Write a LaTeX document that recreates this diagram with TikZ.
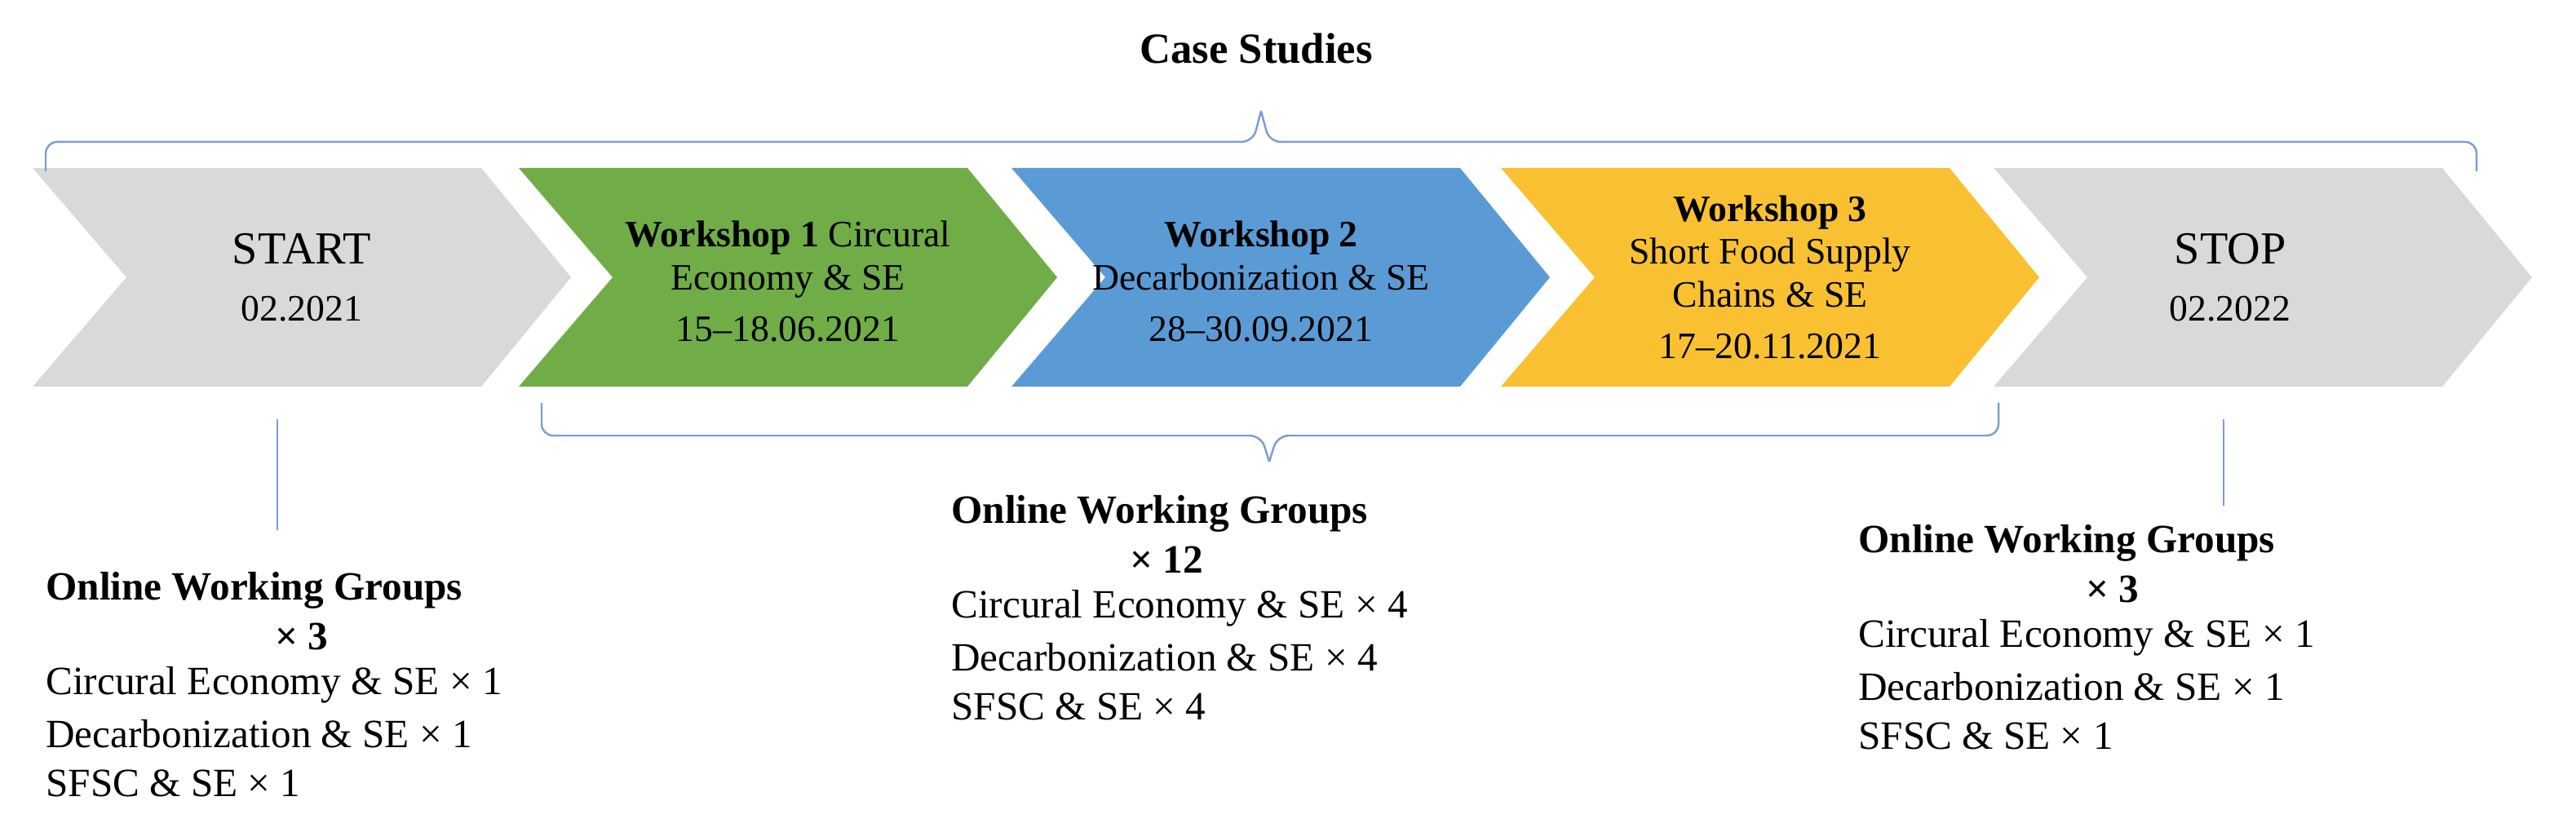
\documentclass[tikz,border=0pt]{standalone}
\usepackage{fontspec}
\setmainfont{Liberation Serif}
\usetikzlibrary{positioning}
\definecolor{chgray}{HTML}{D9D9D9}
\definecolor{chgreen}{HTML}{70AD47}
\definecolor{chblue}{HTML}{5B9BD5}
\definecolor{chyellow}{HTML}{F9C131}
\definecolor{brace}{HTML}{4472C4}
\newcommand{\chev}[2]{\fill[#2] (#1,8.14) -- ++(5.5,0) -- ++(1.1,-1.34) -- ++(-1.1,-1.34) -- ++(-5.5,0) -- ++(1.15,1.34) -- cycle;}
\begin{document}
\begin{tikzpicture}[
  stage/.style={align=center, font=\fontsize{13}{15}\selectfont},
  grp/.style={anchor=west, font=\fontsize{14}{17}\selectfont},
  brk/.style={draw=brace!70, line width=0.7pt, rounded corners=4pt}]
\useasboundingbox (0,0) rectangle (31.58,10.2);
% chevrons
\chev{0.4}{chgray}
\chev{6.36}{chgreen}
\chev{12.4}{chblue}
\chev{18.4}{chyellow}
\chev{24.44}{chgray}
\node[stage, font=\fontsize{16}{22}\selectfont] (start) at (3.7,6.8) {START\\[-2pt]{\fontsize{13}{15}\selectfont 02.2021}};
\node[stage] (ws1) at (9.66,6.75) {\textbf{Workshop 1} Circural\\Economy \& SE\\[3pt]15--18.06.2021};
\node[stage] (ws2) at (15.46,6.75) {\textbf{Workshop 2}\\Decarbonization \& SE\\[3pt]28--30.09.2021};
\node[stage] (ws3) at (21.7,6.8) {\textbf{Workshop 3}\\Short Food Supply\\Chains \& SE\\[3pt]17--20.11.2021};
\node[stage, font=\fontsize{16}{22}\selectfont] (stop) at (27.34,6.8) {STOP\\[-2pt]{\fontsize{13}{15}\selectfont 02.2022}};
% braces
\node[font=\bfseries\fontsize{15}{18}\selectfont] (title) at (15.4,9.6) {Case Studies};
\draw[brk] (0.56,8.1) -- (0.56,8.46) -- (15.36,8.46) -- (15.46,8.84)
  (15.46,8.84) -- (15.56,8.46) -- (30.36,8.46) -- (30.36,8.1);
\draw[brk] (6.64,5.26) -- (6.64,4.86) -- (15.46,4.86) -- (15.56,4.54)
  (15.56,4.54) -- (15.66,4.86) -- (24.5,4.86) -- (24.5,5.26);
\coordinate (l1) at (3.4,5.06);
\coordinate (l2) at (27.26,5.06);
\draw[brace!70, line width=0.7pt] (l1) -- ++(0,-1.36);
\draw[brace!70, line width=0.7pt] (l2) -- ++(0,-1.06);
% groups
\node[grp, font=\bfseries\fontsize{14}{17}\selectfont] (g1) at (0.44,2.96) {Online Working Groups};
\node[grp, font=\bfseries\fontsize{14}{17}\selectfont, anchor=center] (g1n) at (3.7,2.4) {× 3};
\node[grp] (g1a) at (0.44,1.8) {Circural Economy \& SE × 1};
\node[grp] (g1b) at (0.44,1.2) {Decarbonization \& SE × 1};
\node[grp] (g1c) at (0.44,0.6) {SFSC \& SE × 1};
\node[grp, font=\bfseries\fontsize{14}{17}\selectfont] (g2) at (11.54,3.9) {Online Working Groups};
\node[grp, font=\bfseries\fontsize{14}{17}\selectfont, anchor=center] (g2n) at (14.3,3.34) {× 12};
\node[grp] (g2a) at (11.54,2.74) {Circural Economy \& SE × 4};
\node[grp] (g2b) at (11.54,2.14) {Decarbonization \& SE × 4};
\node[grp] (g2c) at (11.54,1.54) {SFSC \& SE × 4};
\node[grp, font=\bfseries\fontsize{14}{17}\selectfont] (g3) at (22.66,3.54) {Online Working Groups};
\node[grp, font=\bfseries\fontsize{14}{17}\selectfont, anchor=center] (g3n) at (25.9,2.98) {× 3};
\node[grp] (g3a) at (22.66,2.38) {Circural Economy \& SE × 1};
\node[grp] (g3b) at (22.66,1.78) {Decarbonization \& SE × 1};
\node[grp] (g3c) at (22.66,1.18) {SFSC \& SE × 1};
\end{tikzpicture}
\end{document}
